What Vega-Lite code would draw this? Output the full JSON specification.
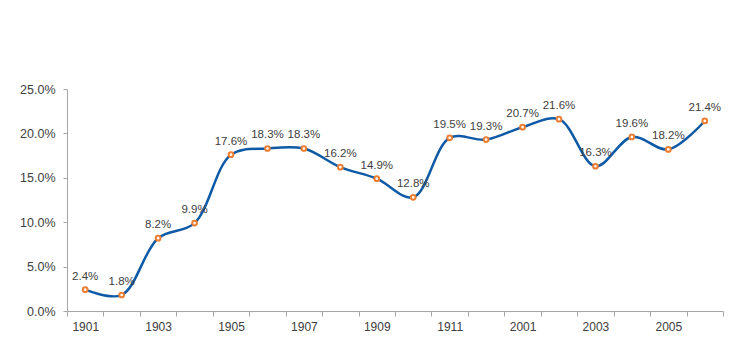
{
  "$schema": "https://vega.github.io/schema/vega-lite/v6.json",
  "width": 656,
  "height": 222,
  "autosize": {"type": "none"},
  "padding": {"left": 67, "top": 89, "right": 14, "bottom": 42},
  "background": "white",
  "config": {
    "view": {"stroke": null},
    "font": "Liberation Sans",
    "axis": {"grid": false, "domainColor": "#a6a6a6", "tickColor": "#a6a6a6", "labelColor": "#404040", "labelFontSize": 12, "title": null}
  },
  "data": {
    "values": [
      {"year": "1901", "rate": 0.024},
      {"year": "1902", "rate": 0.018},
      {"year": "1903", "rate": 0.082},
      {"year": "1904", "rate": 0.099},
      {"year": "1905", "rate": 0.176},
      {"year": "1906", "rate": 0.183},
      {"year": "1907", "rate": 0.183},
      {"year": "1908", "rate": 0.162},
      {"year": "1909", "rate": 0.149},
      {"year": "1910", "rate": 0.128},
      {"year": "1911", "rate": 0.195},
      {"year": "1912", "rate": 0.193},
      {"year": "2001", "rate": 0.207},
      {"year": "2002", "rate": 0.216},
      {"year": "2003", "rate": 0.163},
      {"year": "2004", "rate": 0.196},
      {"year": "2005", "rate": 0.182},
      {"year": "2006", "rate": 0.214}
    ]
  },
  "encoding": {
    "x": {
      "field": "year", "type": "ordinal", "sort": null,
      "scale": {"paddingInner": 0, "paddingOuter": 0},
      "axis": {"labelAngle": 0, "tickBand": "extent", "tickSize": 5, "labelPadding": 5,
               "labelExpr": "parseInt(datum.value) % 2 == 1 ? datum.label : ''"}
    },
    "y": {
      "field": "rate", "type": "quantitative",
      "scale": {"domain": [0, 0.25], "nice": false},
      "axis": {"format": ".1%", "values": [0, 0.05, 0.1, 0.15, 0.2, 0.25], "tickSize": 4, "labelPadding": 8, "labelFontSize": 12.5}
    }
  },
  "layer": [
    {"mark": {"type": "line", "interpolate": "catmull-rom", "color": "#0f5aa6", "strokeWidth": 2.5}},
    {"mark": {"type": "point", "filled": true, "fill": "white", "stroke": "#ed7d31", "strokeWidth": 2, "size": 22, "opacity": 1}},
    {"mark": {"type": "text", "dy": -13, "fontSize": 11.5, "color": "#404040"},
     "encoding": {"text": {"field": "rate", "type": "quantitative", "format": ".1%"}}}
  ]
}
